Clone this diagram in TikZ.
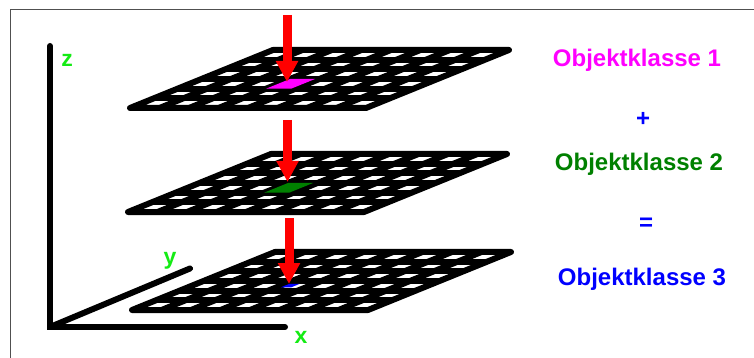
\documentclass[tikz,border=0pt]{standalone}
\usepackage{fontspec}
\setmainfont{Liberation Sans}
\usetikzlibrary{arrows.meta}
\definecolor{axisgreen}{RGB}{20,235,20}
\definecolor{klassegreen}{RGB}{0,128,0}
\definecolor{klassemagenta}{RGB}{255,0,255}
\definecolor{klasseblue}{RGB}{0,0,255}
\definecolor{framegray}{RGB}{80,80,80}

\begin{document}
\begin{tikzpicture}[x=1pt,y=-1pt,
  gridline/.style={line width=6pt,line join=round},
  axis/.style={line width=6pt,line cap=round},
  drop/.style={red,line width=9pt,-{Triangle[width=21pt,length=21pt]}},
  axislabel/.style={text=axisgreen,font=\fontsize{23}{23}\selectfont\bfseries,inner sep=0pt,anchor=base},
  klasse/.style={font=\fontsize{24}{24}\selectfont\bfseries,inner sep=0pt,anchor=base}]
\useasboundingbox (0,0) rectangle (754,358);
\draw[framegray,line width=1pt] (10,358) -- (10,10) -- (754,10);

% axes
\coordinate (o) at (50,327);
\coordinate (zend) at (50,46);
\coordinate (xend) at (285,327);
\coordinate (yend) at (190,268.5);
\draw[axis] (zend) -- (o) -- (xend);
\draw[axis] (o) -- (yend);
\node[axislabel] (zlab) at (67,67) {z};
\node[axislabel] (ylab) at (170,264) {y};
\node[axislabel] (xlab) at (301,343) {x};

% three grids, one marked cell each
\foreach \px/\py/\col/\a/\b/\c/\d in {130/108/klassemagenta/3/2/3.85/3,
    128/212/klassegreen/3/2/3.85/3, 132/310/klasseblue/3.15/2.35/3.5/2.7} {
  \begin{scope}[shift={(\px,\py)},x={(29.5pt,0pt)},y={(23.83pt,9.67pt)}]
    \foreach \i in {1,...,7} \draw[gridline] (\i,0) -- (\i,6);
    \foreach \j in {1,...,5} \draw[gridline] (0,\j) -- (8,\j);
    \draw[gridline] (0,0) -- (8,0) -- (8,6) -- (0,6) -- cycle;
    \fill[\col] (\a,\b) -- (\c,\b) -- (\c,\d) -- (\a,\d) -- cycle;
  \end{scope}
}

% arrows onto the cells
\foreach \n/\x/\ya/\yb in {1/287/15/82, 2/287.5/120/182, 3/289/218/284} {
  \coordinate (top\n) at (\x,\ya);
  \coordinate (tip\n) at (\x,\yb);
  \draw[drop] (top\n) -- (tip\n);
}

\node[klasse,text=klassemagenta] (k1) at (637,66.5) {Objektklasse 1};
\node[klasse,text=klasseblue] (plus) at (643,126.5) {+};
\node[klasse,text=klassegreen] (k2) at (639,171) {Objektklasse 2};
\node[klasse,text=klasseblue] (eq) at (646,230.5) {=};
\node[klasse,text=klasseblue] (k3) at (642,285) {Objektklasse 3};
\end{tikzpicture}
\end{document}
